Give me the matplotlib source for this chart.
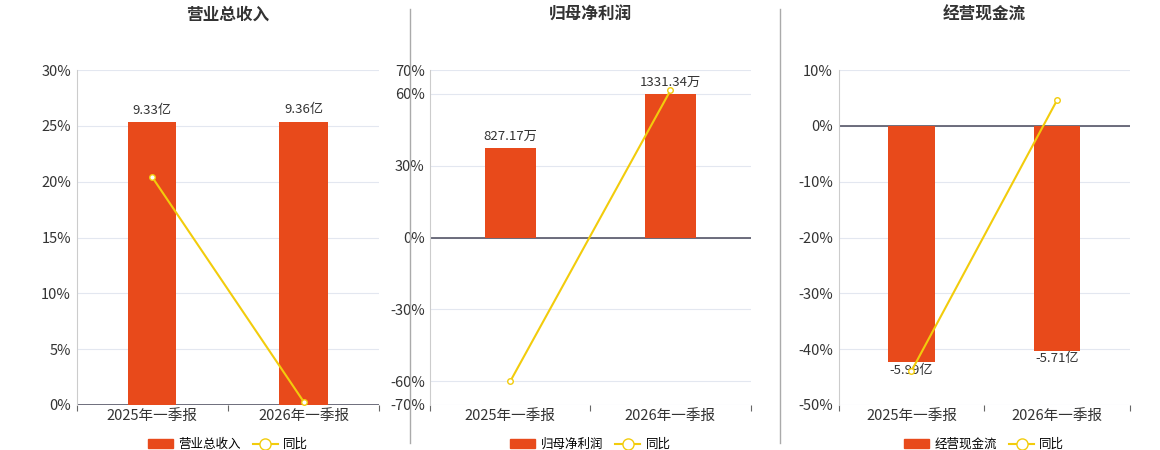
import matplotlib
matplotlib.use("Agg")
import matplotlib.pyplot as plt
from matplotlib.lines import Line2D

plt.rcParams['font.family'] = ['Noto Sans CJK SC', 'DejaVu Sans']

categories = ["2025年一季报", "2026年一季报"]
titles = ["营业总收入", "归母净利润", "经营现金流"]
bar_names = ["营业总收入", "归母净利润", "经营现金流"]
bar_values = [[9.33, 9.36], [827.17, 1331.34], [-5.99, -5.71]]
bar_labels = [["9.33亿", "9.36亿"], ["827.17万", "1331.34万"], ["-5.99亿", "-5.71亿"]]
yoy = [[20.4, 0.3], [-60.0, 61.5], [-43.9, 4.6]]
pct_lims = [(0, 30), (-70, 70), (-50, 10)]
pct_ticks = [[0, 5, 10, 15, 20, 25, 30], [-70, -60, -30, 0, 30, 60, 70], [-50, -40, -30, -20, -10, 0, 10]]
bar_lims = [(0, 11.06), (-1552, 1552), (-7.08, 1.416)]

BAR = "#E84A1B"
LINE = "#F2CC0C"
positions = [(0.066, 0.261), (0.371, 0.276), (0.723, 0.251)]

fig = plt.figure(figsize=(11.6, 4.5), dpi=100)
for i in range(3):
    l, w = positions[i]
    ax = fig.add_axes([l, 0.1, w, 0.7444])
    ax.set_xlim(0, 2)
    ax.set_ylim(*pct_lims[i])
    ax.set_yticks(pct_ticks[i])
    ax.set_yticklabels([f"{t}%" for t in pct_ticks[i]], fontsize=10.5, color="#333333")
    ax.set_xticks([0, 1, 2])
    ax.set_xticklabels([])
    ax.set_xticks([0.5, 1.5], minor=True)
    ax.set_xticklabels(categories, minor=True, fontsize=10.5, color="#333333")
    ax.tick_params(axis='x', which='minor', length=0, pad=3)
    ax.tick_params(axis='x', which='major', length=4, color="#666666")
    ax.tick_params(axis='y', length=0, pad=4)
    ax.grid(axis='y', color="#E3E7F0", lw=0.8)
    ax.set_axisbelow(True)
    for s in ["top", "right"]:
        ax.spines[s].set_visible(False)
    ax.spines["left"].set_color("#CCCCCC")
    ax.spines["bottom"].set_visible(False)
    ax.axhline(0, color="#555566", lw=1.2, zorder=2)

    ax2 = ax.twinx()
    ax2.set_ylim(*bar_lims[i])
    ax2.axis("off")
    bars = ax2.bar([0.5, 1.5], bar_values[i], width=0.32, color=BAR, zorder=2)
    for b, v, lab in zip(bars, bar_values[i], bar_labels[i]):
        off = (bar_lims[i][1] - bar_lims[i][0]) * 0.015
        if v >= 0:
            ax2.text(b.get_x() + b.get_width() / 2, v + off, lab, ha="center", va="bottom", fontsize=9.5, color="#333333")
        else:
            ax2.text(b.get_x() + b.get_width() / 2, v - off * 0.3, lab, ha="center", va="top", fontsize=9.5, color="#333333", zorder=5)

    ax3 = ax.twinx()
    ax3.set_ylim(*pct_lims[i])
    ax3.axis("off")
    ax3.plot([0.5, 1.5], yoy[i], color=LINE, lw=1.5, marker="o", ms=4,
             markerfacecolor="white", markeredgecolor=LINE, zorder=4)

    ax.set_title(titles[i], fontsize=12, fontweight="bold", color="#333333", pad=36)

    handles = [plt.Rectangle((0, 0), 1, 1, color=BAR),
               Line2D([], [], color=LINE, lw=1.5, marker="o", ms=8, markerfacecolor="white", markeredgecolor=LINE)]
    ax.legend(handles, [bar_names[i], "同比"], loc="upper center", bbox_to_anchor=(0.5, -0.065),
              ncol=2, frameon=False, fontsize=9, handlelength=2, columnspacing=1, handletextpad=0.4)

for x in [410 / 1160, 780 / 1160]:
    fig.add_artist(Line2D([x, x], [0.015, 0.98], color="#AAAAAA", lw=1))

fig.savefig("out.png", dpi=100)
